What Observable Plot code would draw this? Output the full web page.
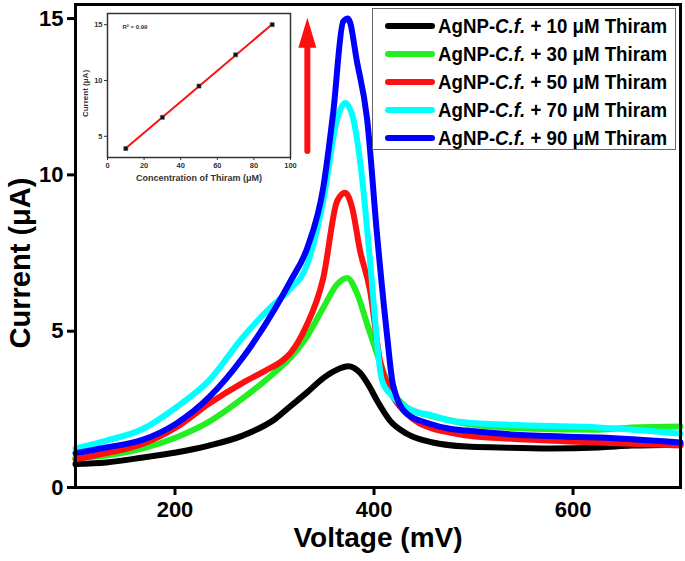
<!DOCTYPE html>
<html>
<head>
<meta charset="utf-8">
<script src="https://cdn.jsdelivr.net/npm/d3@7"></script>
<script src="https://cdn.jsdelivr.net/npm/@observablehq/plot@0.6"></script>
<style>
  html, body { margin: 0; padding: 0; background: #fff; }
  #wrap { position: relative; width: 685px; height: 561px; font-family: Arial, "Liberation Sans", sans-serif; }
  #wrap svg { position: absolute; }
  #legend { position: absolute; left: 372px; top: 8px; width: 304px; height: 142px; border: 1.5px solid #666; background: #fff; box-sizing: border-box; }
  .row { position: absolute; left: 0; height: 24px; display: flex; align-items: center; }
  .swatch { width: 50px; height: 6px; border-radius: 3px; margin-left: 12px; margin-right: 3px; }
  .lab { font-weight: bold; font-size: 21px; white-space: nowrap; transform: scaleX(0.89); transform-origin: left center; color: #000; }
</style>
</head>
<body>
<div id="wrap"></div>
<script>
// ---- Main chart data (Voltage in mV, Current in µA) ----
const seriesNames = ["10", "30", "50", "70", "90"];
const seriesColors = ["#000000", "#22ee22", "#ff1010", "#00ffff", "#0000ff"];

const v10 = [100,131,168,201,234,268,301,316,333,349,365,374,386,395,403,416,433,459,493,526,576,626,659,708];
const i10 = [0.75,0.8,0.96,1.12,1.34,1.66,2.2,2.6,3.05,3.5,3.8,3.88,3.67,3.25,2.78,2.14,1.72,1.44,1.31,1.28,1.25,1.28,1.34,1.37];

const v30 = [100,131,168,201,234,268,301,316,331,349,363,373,383,393,403,416,433,456,476,493,559,626,659,708];
const i30 = [0.95,1.02,1.25,1.6,2.1,2.85,3.7,4.15,4.75,5.75,6.5,6.7,6.2,5.24,4.28,3.2,2.56,2.3,2.15,2.04,1.88,1.85,1.92,1.95];

const v50 = [100,131,168,201,234,268,291,308,316,331,349,363,371,378,386,396,406,416,433,459,476,493,559,626,659,708];
const i50 = [0.9,1.1,1.4,1.92,2.68,3.35,3.74,4.06,4.3,5.1,6.7,9.17,9.43,8.95,7.57,6.3,4.06,3.1,2.36,1.88,1.76,1.66,1.53,1.44,1.4,1.34];

const v70 = [100,131,168,201,234,268,294,314,333,349,363,371,379,388,396,408,419,439,459,476,493,559,626,708];
const i70 = [1.25,1.5,1.88,2.56,3.42,4.8,5.7,6.3,7.15,9.17,11.8,12.3,11.8,9.9,7.25,3.42,2.9,2.46,2.3,2.14,2.08,1.98,1.92,1.72];

const v90 = [100,131,168,201,234,268,301,316,333,349,359,369,374,383,393,403,413,419,433,456,476,493,559,626,708];
const i90 = [1.1,1.28,1.53,2.04,2.88,4.15,5.75,6.6,7.67,9.6,12.0,14.9,15.0,13.6,11.8,8.1,4.9,3.3,2.36,2.04,1.88,1.82,1.66,1.6,1.44];

const xTicks = [200, 400, 600];
const yTicks = [0, 5, 10, 15];
const xTitle = "Voltage (mV)";
const yTitle = "Current (μA)";

// Red arrow annotation (data units)
const arrowAnnotation = [{ x: 333, yStart: 10.75, yHead: 14.55 }];

// ---- Inset data ----
const insetConc = [10, 30, 50, 70, 90];
const insetCurrent = [3.9, 6.7, 9.5, 12.3, 15.0];
const insetXTicks = [0, 20, 40, 60, 80, 100];
const insetYTicks = [5, 10, 15];
const insetXTitle = "Concentration of Thiram (μM)";
const insetYTitle = "Current (μA)";
const insetNote = "R² = 0.99";

// ---- Build tables ----
const vs = [v10, v30, v50, v70, v90];
const is = [i10, i30, i50, i70, i90];
const table = [];
seriesNames.forEach((s, k) => vs[k].forEach((v, j) => table.push({ series: s, v, i: is[k][j] })));
const insetData = insetConc.map((c, j) => ({ c, cur: insetCurrent[j] }));

const font = "Arial, 'Liberation Sans', sans-serif";

const arrowHead = {
  draw(ctx, size) {
    const s = Math.sqrt(size / Math.PI);
    ctx.moveTo(0, -1.5 * s);
    ctx.lineTo(0.9 * s, 1.5 * s);
    ctx.lineTo(-0.9 * s, 1.5 * s);
    ctx.closePath();
  }
};

const main = Plot.plot({
  width: 685, height: 561,
  marginLeft: 75, marginRight: 5, marginTop: 4, marginBottom: 74,
  x: { domain: [100, 708] },
  y: { domain: [0, 15.45] },
  style: { fontFamily: font, background: "white", color: "black" },
  marks: [
    ...seriesNames.map((s, k) => Plot.line(table.filter(d => d.series === s), {
      x: "v", y: "i", stroke: seriesColors[k], strokeWidth: 6, curve: "monotone-x", strokeLinejoin: "round", strokeLinecap: "round"
    })),
    Plot.ruleX(arrowAnnotation, { x: "x", y1: "yStart", y2: "yHead", stroke: "#ff1010", strokeWidth: 6, strokeLinecap: "round" }),
    Plot.dot(arrowAnnotation, { x: "x", y: "yHead", symbol: arrowHead, r: 10, fill: "#ff1010", stroke: "none" }),
    Plot.axisX({ ticks: xTicks, tickSize: 8, tickPadding: 6, fontSize: 22, fontWeight: "bold", strokeWidth: 3, label: null }),
    Plot.axisY({ ticks: yTicks, tickSize: 8, tickPadding: 4, fontSize: 22, fontWeight: "bold", strokeWidth: 3, label: null }),
    Plot.frame({ stroke: "black", strokeWidth: 3 }),
    Plot.text([xTitle], { text: d => d, frameAnchor: "bottom", dy: 59, fontSize: 28, fontWeight: "bold" }),
    Plot.text([yTitle], { text: d => d, frameAnchor: "left", dx: -55, dy: 17, rotate: -90, textAnchor: "middle", fontSize: 29, fontWeight: "bold" })
  ]
});
main.style.left = "0px"; main.style.top = "0px";

const inset = Plot.plot({
  width: 228, height: 190,
  marginLeft: 27, marginRight: 18, marginTop: 13, marginBottom: 33,
  x: { domain: [0, 100] },
  y: { domain: [3.1, 16] },
  style: { fontFamily: font, background: "transparent", color: "#333" },
  marks: [
    Plot.linearRegressionY(insetData, { x: "c", y: "cur", stroke: "#ff1010", strokeWidth: 2, ci: 0 }),
    Plot.dot(insetData, { x: "c", y: "cur", symbol: "square", r: 2.3, fill: "#111", stroke: "#555", strokeWidth: 0.6 }),
    Plot.axisX({ ticks: insetXTicks, tickSize: 3, tickPadding: 2, fontSize: 7.5, fontWeight: "bold", stroke: "#333", label: null }),
    Plot.axisY({ ticks: insetYTicks, tickSize: 3, tickPadding: 2, fontSize: 7.5, fontWeight: "bold", stroke: "#333", label: null }),
    Plot.frame({ stroke: "#333", strokeWidth: 1.5 }),
    Plot.text([insetXTitle], { text: d => d, frameAnchor: "bottom", dy: 23, fontSize: 9, fontWeight: "bold", fill: "#333" }),
    Plot.text([insetYTitle], { text: d => d, frameAnchor: "left", dx: -22, dy: 8, rotate: -90, textAnchor: "middle", fontSize: 8, fontWeight: "bold", fill: "#333" }),
    Plot.text([insetNote], { text: d => d, frameAnchor: "top-left", dx: 15, dy: 11, fontSize: 6, fontWeight: "bold", fill: "#333", textAnchor: "start" })
  ]
});
inset.style.left = "80px"; inset.style.top = "0px";

const wrap = document.getElementById("wrap");
wrap.appendChild(main);
wrap.appendChild(inset);

// Legend
const legend = document.createElement("div");
legend.id = "legend";
seriesNames.forEach((s, k) => {
  const row = document.createElement("div");
  row.className = "row";
  row.style.top = (5 + k * 28) + "px";
  const sw = document.createElement("div");
  sw.className = "swatch";
  sw.style.background = seriesColors[k];
  const lab = document.createElement("div");
  lab.className = "lab";
  lab.innerHTML = `AgNP-<i>C.f.</i> + ${s} μM Thiram`;
  row.appendChild(sw); row.appendChild(lab);
  legend.appendChild(row);
});
wrap.appendChild(legend);
</script>
</body>
</html>
